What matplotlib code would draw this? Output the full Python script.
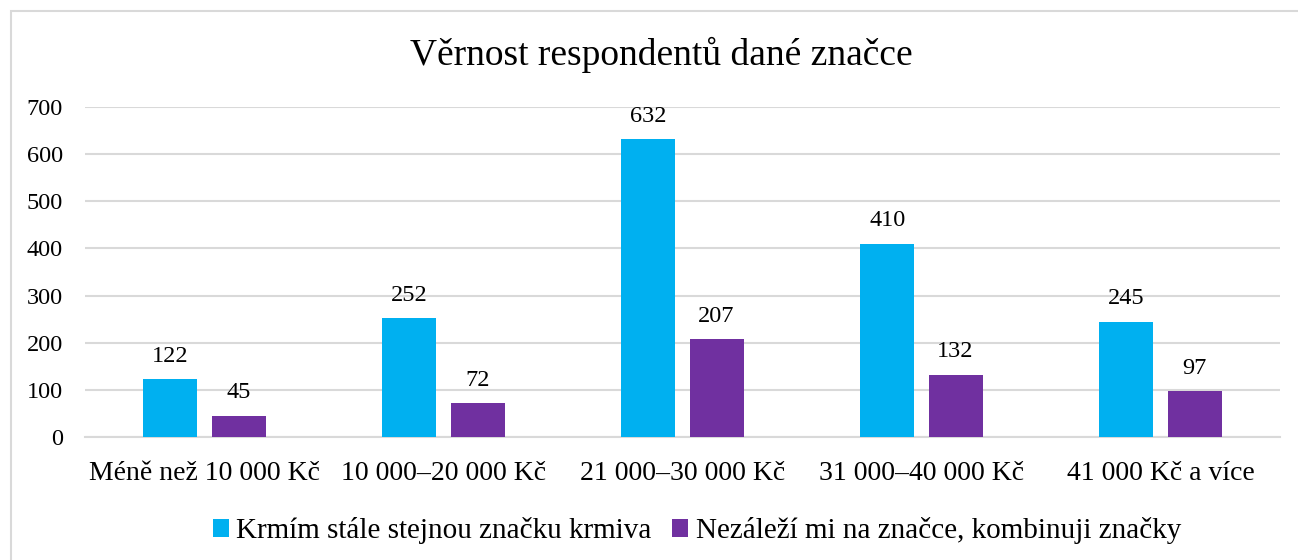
import matplotlib
matplotlib.use("Agg")
import matplotlib.pyplot as plt
from matplotlib.patches import Rectangle
import numpy as np

categories = ["Méně než 10 000 Kč", "10 000–20 000 Kč", "21 000–30 000 Kč",
              "31 000–40 000 Kč", "41 000 Kč a více"]
series_names = ["Krmím stále stejnou značku krmiva",
                "Nezáleží mi na značce, kombinuji značky"]
same_brand = [122, 252, 632, 410, 245]
mixed_brand = [45, 72, 207, 132, 97]
yticks = [0, 100, 200, 300, 400, 500, 600, 700]

plt.rcParams['font.family'] = ['Liberation Serif', 'DejaVu Serif']

W, H = 1298, 560
fig = plt.figure(figsize=(W/100, H/100), dpi=100)
fig.patch.set_facecolor('white')
fig.patches.append(Rectangle((11/W, -0.1), 1.2, 1 - 11/H + 0.1,
                             transform=fig.transFigure, fill=False,
                             edgecolor='#D9D9D9', linewidth=1.5))

ax = fig.add_axes([85/W, 1 - 437/H, (1280-85)/W, (437-107)/H])
x = np.arange(len(categories))
bw = 0.226
gap = 0.059
off = (bw + gap) / 2
b1 = ax.bar(x - off, same_brand, bw, color='#00B0F0', label=series_names[0], zorder=3)
b2 = ax.bar(x + off, mixed_brand, bw, color='#7030A0', label=series_names[1], zorder=3)
for bars in (b1, b2):
    for r in bars:
        ax.annotate(f"{int(r.get_height())}", (r.get_x() + r.get_width()/2, r.get_height()),
                    xytext=(0, 9), textcoords='offset points', ha='center', va='bottom',
                    fontsize=17.5)

ax.set_xlim(-0.5, len(categories) - 0.5)
ax.set_ylim(0, 700)
ax.set_yticks(yticks)
ax.set_yticklabels([str(v) for v in yticks], fontsize=17.5)
ax.set_xticks(x)
ax.set_xticklabels(categories, fontsize=20)
ax.tick_params(axis='both', length=0)
ax.tick_params(axis='y', pad=16)
ax.tick_params(axis='x', pad=17)
ax.grid(axis='y', color='#D9D9D9', linewidth=1.5, zorder=0)
for s in ('top', 'right', 'left'):
    ax.spines[s].set_visible(False)
ax.spines['bottom'].set_color('#D9D9D9')
ax.spines['bottom'].set_linewidth(1.5)

fig.text(661/W, 1 - 55/H, "Věrnost respondentů dané značce", ha='center', va='center',
         fontsize=27)

fig.legend(handles=[b1, b2], labels=series_names, loc='center', ncol=2,
           bbox_to_anchor=(697/W, 1 - 531/H), frameon=False, fontsize=21,
           handlelength=0.55, handleheight=0.55, handletextpad=0.25, columnspacing=0.7)

fig.savefig("out.png", dpi=100)
